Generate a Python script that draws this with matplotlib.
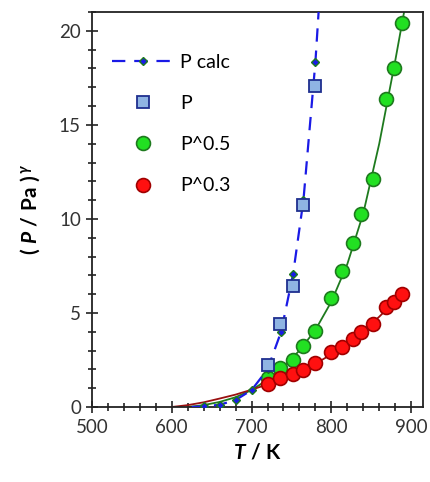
import numpy as np
import matplotlib
matplotlib.use("Agg")
import matplotlib.pyplot as plt
from matplotlib.ticker import MultipleLocator
from matplotlib.lines import Line2D

plt.rcParams['font.family'] = ['Lato', 'DejaVu Sans']
plt.rcParams['mathtext.fontset'] = 'custom'
plt.rcParams['mathtext.rm'] = 'Lato:bold'
plt.rcParams['mathtext.it'] = 'Lato:italic:bold'
plt.rcParams['mathtext.bf'] = 'Lato:bold'

# P calc curve (dashed) with diamonds
T_calc = [625, 640, 660, 680, 700, 720, 737, 752, 765, 780, 787]
P_calc = [0.0, 0.03, 0.12, 0.37, 0.9, 2.0, 4.0, 7.06, 11.0, 18.35, 23.0]
T_diam = [640, 660, 680, 700, 720, 737, 752, 765, 780]
P_diam = [0.03, 0.12, 0.37, 0.9, 2.0, 4.0, 7.06, 11.0, 18.35]

# measured P
T_P = [720, 736, 752, 765, 780]
P_meas = [2.25, 4.4, 6.45, 10.75, 17.05]

# P^0.5 and P^0.3 (same temperatures)
T_pow = [720, 736, 752, 765, 780, 800, 813, 827, 837, 852, 868, 879, 888]
P05 = [1.52, 2.05, 2.49, 3.25, 4.05, 5.82, 7.23, 8.72, 10.24, 12.13, 16.4, 18.05, 20.44]
P03 = [1.2, 1.52, 1.75, 1.96, 2.32, 2.94, 3.2, 3.64, 4.0, 4.4, 5.32, 5.59, 6.03]

# fitted curves
T_fit05 = [620, 640, 660, 680, 700, 720, 740, 760, 780, 800, 820, 840, 860, 880, 892]
F05 = [0.0, 0.1, 0.27, 0.52, 0.9, 1.45, 2.15, 3.0, 4.1, 5.6, 7.6, 10.3, 14.0, 18.4, 21.2]
T_fit03 = [600, 620, 640, 660, 680, 700, 720, 740, 760, 780, 800, 820, 840, 860, 880, 892]
F03 = [0.0, 0.1, 0.25, 0.45, 0.66, 0.92, 1.2, 1.52, 1.88, 2.3, 2.8, 3.4, 4.05, 4.8, 5.65, 6.25]

fig = plt.figure(figsize=(4.3, 4.82), dpi=100)
ax = fig.add_axes([0.214, 0.1556, 0.77, 0.8194])

ax.plot(T_fit05, F05, color='#1e7a1e', lw=1.3, zorder=2)
ax.plot(T_fit03, F03, color='#9a1010', lw=1.3, zorder=2)
ax.plot(T_pow, P05, 'o', ms=10, mfc='#22e022', mec='#1e7a1e', mew=1.2, ls='none', zorder=3)
ax.plot(T_pow, P03, 'o', ms=10, mfc='#ff1010', mec='#a00000', mew=1.2, ls='none', zorder=4)
ax.plot(T_calc, P_calc, color='#1a1ae6', lw=1.6, dashes=(6, 4), zorder=5)
ax.plot(T_diam, P_diam, 'D', ms=4.5, mfc='#1a1ae6', mec='#1e7a1e', mew=1.0, ls='none', zorder=6)
ax.plot(T_P, P_meas, 's', ms=8, mfc='#8fb4e3', mec='#1f2f8f', mew=1.3, ls='none', zorder=7)

# legend handles
h_calc = Line2D([], [], color='#1a1ae6', lw=1.6, dashes=(6, 4), marker='D', ms=4.5,
                mfc='#1a1ae6', mec='#1e7a1e', mew=1.0)
h_P = Line2D([], [], ls='none', marker='s', ms=8, mfc='#8fb4e3', mec='#1f2f8f', mew=1.3)
h_05 = Line2D([], [], ls='none', marker='o', ms=10, mfc='#22e022', mec='#1e7a1e', mew=1.2)
h_03 = Line2D([], [], ls='none', marker='o', ms=10, mfc='#ff1010', mec='#a00000', mew=1.2)
ax.legend([h_calc, h_P, h_05, h_03], ['P calc', 'P', 'P^0.5', 'P^0.3'],
          loc='upper left', bbox_to_anchor=(0.06, 0.895), frameon=False, fontsize=14,
          handlelength=3.2, labelspacing=1.25, borderaxespad=0, borderpad=0,
          handletextpad=0.3, numpoints=1)

ax.set_xlim(500, 915)
ax.set_ylim(0, 21)
ax.xaxis.set_major_locator(MultipleLocator(100))
ax.xaxis.set_minor_locator(MultipleLocator(20))
ax.yaxis.set_major_locator(MultipleLocator(5))
ax.yaxis.set_minor_locator(MultipleLocator(1))
ax.tick_params(which='major', direction='inout', length=9, width=1.2, labelsize=13.5,
               colors='#222222', labelcolor='#333333')
ax.tick_params(which='minor', direction='inout', length=6, width=1.2, colors='#222222')
ax.tick_params(axis='x', pad=4)
for s in ax.spines.values():
    s.set_linewidth(1.3)
    s.set_color('#222222')

ax.set_xlabel(r'$\mathit{T}\ /\ \mathrm{K}$', fontsize=15, labelpad=5)
ax.set_ylabel(r'$(\ \mathit{P}\ /\ \mathrm{Pa}\ )^{\,\gamma}$', fontsize=15, labelpad=12)

fig.savefig('out.png', dpi=100)
